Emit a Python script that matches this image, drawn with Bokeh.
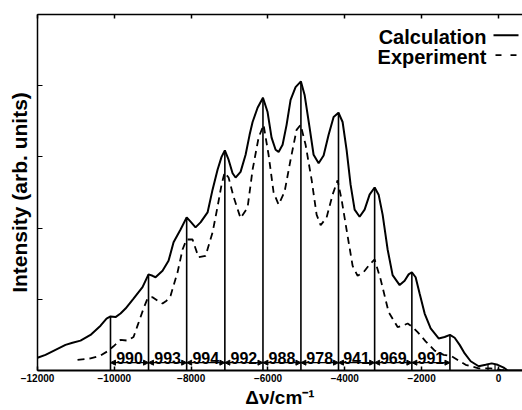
from bokeh.plotting import figure
from bokeh.models import Range1d, LinearAxis, FixedTicker, Label, Arrow, NormalHead, ColumnDataSource
from bokeh.core.properties import value
from bokeh.embed import file_html
from bokeh.resources import INLINE

# ---- data ----
calc_x = [-12000, -11792, -11531, -11271, -11089, -10880, -10620, -10359, -10203, -10100,
          -9969, -9839, -9708, -9500, -9266, -9110, -9005, -8927, -8745, -8589,
          -8458, -8276, -8117, -8016, -7886, -7756, -7573, -7443, -7313, -7209,
          -7123, -7026, -6922, -6844, -6714, -6583, -6479, -6401, -6271, -6131,
          -6011, -5907, -5802, -5724, -5620, -5516, -5412, -5282, -5143, -5047,
          -4917, -4813, -4682, -4552, -4422, -4292, -4165, -4058, -3954, -3850,
          -3745, -3615, -3485, -3355, -3224, -3120, -3016, -2886, -2756, -2573,
          -2443, -2339, -2255, -2157, -2053, -1922, -1766, -1558, -1402, -1264,
          -1141, -1011, -880, -724, -516, -334, -177, -21, 135, 240, 625]
calc_y = [0.18, 0.22, 0.29, 0.36, 0.39, 0.42, 0.50, 0.63, 0.73, 0.76,
          0.75, 0.80, 0.87, 1.01, 1.17, 1.35, 1.33, 1.31, 1.40, 1.54,
          1.80, 1.98, 2.15, 2.09, 2.01, 2.08, 2.22, 2.54, 2.82, 3.00,
          3.09, 2.96, 2.77, 2.71, 2.79, 3.03, 3.31, 3.49, 3.69, 3.83,
          3.63, 3.27, 3.10, 3.07, 3.17, 3.45, 3.80, 3.98, 4.06, 3.87,
          3.41, 3.03, 2.91, 3.02, 3.31, 3.56, 3.62, 3.49, 3.10, 2.61,
          2.26, 2.16, 2.26, 2.47, 2.57, 2.47, 2.19, 1.70, 1.34, 1.20,
          1.26, 1.35, 1.38, 1.31, 1.08, 0.80, 0.59, 0.45, 0.47, 0.50,
          0.46, 0.36, 0.24, 0.13, 0.06, 0.08, 0.10, 0.08, 0.04, 0.00, 0.00]

exp_x = [-10958, -10620, -10359, -10177, -10021, -9839, -9656, -9500, -9396, -9240,
         -9136, -9005, -8875, -8745, -8641, -8536, -8354, -8224, -8120, -7964,
         -7808, -7625, -7443, -7313, -7209, -7130, -7026, -6896, -6714, -6531,
         -6401, -6245, -6115, -5985, -5854, -5724, -5568, -5412, -5256, -5151,
         -5021, -4865, -4735, -4630, -4474, -4318, -4188, -4084, -3928, -3797,
         -3667, -3511, -3355, -3224, -3068, -2860, -2626, -2495, -2365, -2235,
         -2105, -1897, -1662, -1428, -1220, -1037, -855, -516, -204, 56, 240]
exp_y = [0.15, 0.17, 0.21, 0.27, 0.34, 0.43, 0.42, 0.47, 0.63, 0.87,
         1.01, 1.03, 0.98, 0.94, 0.98, 1.05, 1.38, 1.70, 1.84, 1.84,
         1.59, 1.61, 1.94, 2.30, 2.61, 2.78, 2.71, 2.44, 2.14, 2.29,
         2.82, 3.27, 3.45, 3.03, 2.50, 2.33, 2.51, 2.96, 3.38, 3.45,
         3.17, 2.68, 2.19, 2.04, 2.15, 2.47, 2.67, 2.40, 1.89, 1.47,
         1.33, 1.38, 1.49, 1.56, 1.28, 0.82, 0.61, 0.63, 0.66, 0.61,
         0.54, 0.41, 0.28, 0.22, 0.20, 0.14, 0.08, 0.03, 0.03, 0.01, 0.00]

peak_x = [-10100, -9110, -8117, -7123, -6131, -5143, -4165, -3224, -2255, -1264]
peak_y = [0.76, 1.35, 2.15, 3.09, 3.83, 4.06, 3.62, 2.57, 1.38, 0.50]
spacing_labels = ["990", "993", "994", "992", "988", "978", "941", "969", "991"]
extra_x = [-273, -90]
extra_y = [0.09, 0.09]

x_ticks = [-12000, -10000, -8000, -6000, -4000, -2000, 0]
y_ticks = [0, 1, 2, 3, 4, 5]

FONT = "Liberation Sans"

p = figure(width=522, height=410,
           x_range=Range1d(-12000, 625), y_range=Range1d(0, 5),
           output_backend="svg", toolbar_location=None,
           min_border_left=37, min_border_right=0,
           min_border_top=14, min_border_bottom=36)
p.outline_line_color = None
p.grid.visible = False
p.background_fill_color = "white"
p.border_fill_color = "white"

xa = p.xaxis[0]
xa.ticker = FixedTicker(ticks=x_ticks)
xa.major_tick_in = 4
xa.major_tick_out = 0
xa.minor_tick_in = 0
xa.minor_tick_out = 0
xa.axis_line_width = 2
xa.major_tick_line_width = 1.5
xa.major_label_text_font = FONT
xa.major_label_text_font_style = "bold"
xa.major_label_text_font_size = "10px"
xa.major_label_standoff = 3
xa.major_label_text_color = "black"
xa.axis_label = "Δν/cm⁻¹"
xa.axis_label_text_font = FONT
xa.axis_label_text_font_style = "bold"
xa.axis_label_text_font_size = "19px"
xa.axis_label_standoff = 2
xa.axis_label_text_color = "black"

ya = p.yaxis[0]
ya.ticker = FixedTicker(ticks=y_ticks)
ya.major_label_overrides = {t: "" for t in y_ticks}
ya.major_label_text_font_size = "1px"
ya.major_label_standoff = 0
ya.major_tick_in = 5
ya.major_tick_out = 0
ya.minor_tick_in = 0
ya.minor_tick_out = 0
ya.axis_line_width = 1.5
ya.axis_label = "Intensity (arb. units)"
ya.axis_label_text_font = FONT
ya.axis_label_text_font_style = "bold"
ya.axis_label_text_font_size = "21px"
ya.axis_label_standoff = 7
ya.axis_label_text_color = "black"

top = LinearAxis(ticker=FixedTicker(ticks=x_ticks),
                 major_label_overrides={t: "" for t in x_ticks},
                 major_label_text_font_size="1px", major_label_standoff=0,
                 major_tick_in=4, major_tick_out=0,
                 minor_tick_in=0, minor_tick_out=0,
                 axis_line_width=1.5, major_tick_line_width=1.5)
p.add_layout(top, "above")

# curves
p.line(calc_x, calc_y, line_color="black", line_width=2)
p.line(exp_x, exp_y, line_color="black", line_width=1.8, line_dash="7 5")

# peak markers
p.segment(x0=peak_x, y0=[0] * len(peak_x), x1=peak_x, y1=peak_y,
          line_color="black", line_width=1.6)
p.segment(x0=extra_x, y0=[0] * len(extra_x), x1=extra_x, y1=extra_y,
          line_color="black", line_width=1.2)

# spacing arrows
arrow_y = 0.11
src = ColumnDataSource(dict(x0=peak_x[:-1], x1=peak_x[1:], y=[arrow_y] * (len(peak_x) - 1)))
p.add_layout(Arrow(start=NormalHead(size=5, line_width=1, fill_color="black", line_color="black"),
                   end=NormalHead(size=5, line_width=1, fill_color="black", line_color="black"),
                   x_start="x0", y_start="y", x_end="x1", y_end="y",
                   source=src, line_width=1.2, line_color="black"))

mids = [(a + b) / 2 for a, b in zip(peak_x[:-1], peak_x[1:])]
p.text(x=mids, y=[0.18] * len(mids), text=spacing_labels,
       text_align="center", text_baseline="alphabetic",
       text_font=value(FONT), text_font_style="bold", text_font_size="16px",
       text_color="black")

# legend (text left of the line sample)
p.add_layout(Label(x=-313, y=4.69, text="Calculation", text_align="right", text_baseline="middle",
                   text_font=FONT, text_font_style="bold", text_font_size="20px", text_color="black"))
p.add_layout(Label(x=-313, y=4.40, text="Experiment", text_align="right", text_baseline="middle",
                   text_font=FONT, text_font_style="bold", text_font_size="20px", text_color="black"))
p.line([-130, 521], [4.71, 4.71], line_color="black", line_width=2)
p.line([-78, 521], [4.43, 4.43], line_color="black", line_width=1.8, line_dash="6 9")

open("out.html", "w").write(file_html(p, INLINE))
